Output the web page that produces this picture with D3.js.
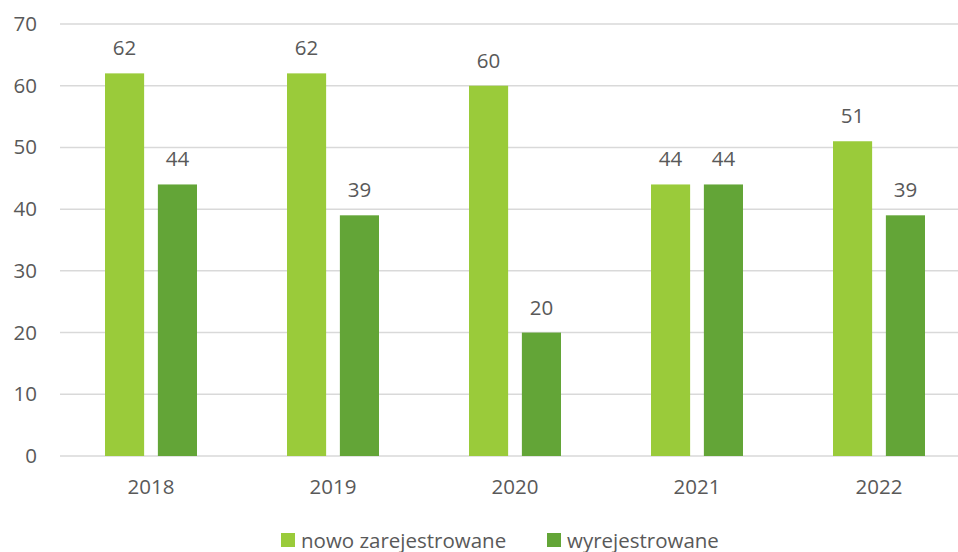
<!DOCTYPE html>
<html>
<head>
<meta charset="utf-8">
<script src="https://cdn.jsdelivr.net/npm/d3@7"></script>
<style>
  html, body { margin: 0; padding: 0; background: #fff; }
  svg { display: block; }
  text { font-family: "Open Sans", sans-serif; fill: #595959; }
</style>
</head>
<body>
<svg id="chart" width="958" height="552"></svg>
<script>
const categories = ["2018", "2019", "2020", "2021", "2022"];
const seriesNames = ["nowo zarejestrowane", "wyrejestrowane"];
const nowoZarejestrowane = [62, 62, 60, 44, 51];
const wyrejestrowane = [44, 39, 20, 44, 39];
const yTicks = [0, 10, 20, 30, 40, 50, 60, 70];
const colors = ["#9ACB3A", "#63A537"];

const seriesValues = [nowoZarejestrowane, wyrejestrowane];
const svg = d3.select("#chart");
const FS = 20.5;

const x = d3.scaleBand().domain(categories).range([60, 970]).paddingInner(0).paddingOuter(0);
const y = d3.scaleLinear().domain([0, 70]).range([456, 24]);
const inner = d3.scaleBand().domain([0, 1]).range([-46, 46]).paddingInner(0.26).paddingOuter(0);

// gridlines
svg.append("g").selectAll("line").data(yTicks).join("line")
  .attr("x1", 60).attr("x2", 970)
  .attr("y1", d => y(d)).attr("y2", d => y(d))
  .attr("stroke", "#D9D9D9").attr("stroke-width", 1.5);

// y labels
svg.append("g").selectAll("text").data(yTicks).join("text")
  .attr("x", 37).attr("y", d => y(d) + 7)
  .attr("text-anchor", "end").attr("font-size", FS)
  .text(d => d);

// bars
const groups = svg.append("g").selectAll("g").data(categories).join("g")
  .attr("transform", d => `translate(${x(d) + x.bandwidth() / 2},0)`);

groups.each(function(cat, ci) {
  const g = d3.select(this);
  seriesValues.forEach((vals, si) => {
    const v = vals[ci];
    g.append("rect")
      .attr("x", inner(si)).attr("width", inner.bandwidth())
      .attr("y", y(v)).attr("height", y(0) - y(v))
      .attr("fill", colors[si]);
    g.append("text")
      .attr("x", inner(si) + inner.bandwidth() / 2)
      .attr("y", y(v) - 18)
      .attr("text-anchor", "middle").attr("font-size", FS)
      .text(v);
  });
});

// x labels
svg.append("g").selectAll("text").data(categories).join("text")
  .attr("x", d => x(d) + x.bandwidth() / 2).attr("y", 494)
  .attr("text-anchor", "middle").attr("font-size", FS)
  .text(d => d);

// legend
const legendX = [281, 547];
const legend = svg.append("g").selectAll("g").data(seriesNames).join("g")
  .attr("transform", (d, i) => `translate(${legendX[i]},533)`);
legend.append("rect").attr("width", 14).attr("height", 14).attr("fill", (d, i) => colors[i]);
legend.append("text").attr("x", 20).attr("y", 14.5).attr("font-size", FS).text(d => d);
</script>
</body>
</html>
